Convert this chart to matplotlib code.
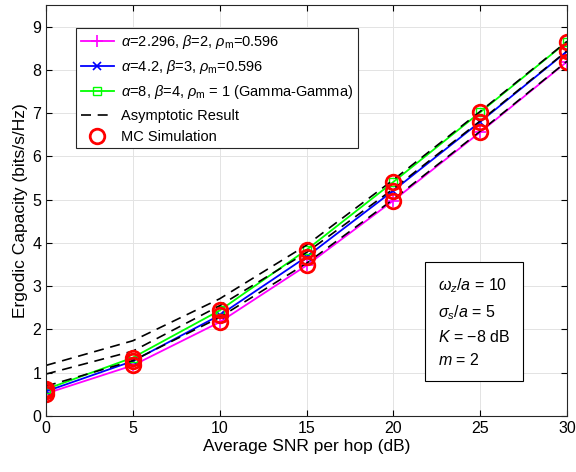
import matplotlib
matplotlib.use("Agg")
import matplotlib.pyplot as plt

plt.rcParams['font.family'] = ['Liberation Sans', 'DejaVu Sans']
plt.rcParams['mathtext.fontset'] = 'custom'
plt.rcParams['mathtext.rm'] = 'Liberation Sans'
plt.rcParams['mathtext.it'] = 'Liberation Sans:italic'

# data
snr = [0, 5, 10, 15, 20, 25, 30]
cap1 = [0.52, 1.17, 2.17, 3.48, 4.98, 6.56, 8.19]
cap2 = [0.57, 1.27, 2.33, 3.68, 5.21, 6.80, 8.43]
cap3 = [0.62, 1.35, 2.44, 3.84, 5.41, 7.02, 8.65]
asym1 = [0.69, 1.28, 2.28, 3.53, 5.01, 6.58, 8.20]
asym2 = [0.97, 1.50, 2.55, 3.78, 5.25, 6.82, 8.44]
asym3 = [1.17, 1.74, 2.71, 3.95, 5.46, 7.04, 8.66]

labels = [r'$\alpha$=2.296, $\beta$=2, $\rho_\mathrm{m}$=0.596',
          r'$\alpha$=4.2, $\beta$=3, $\rho_\mathrm{m}$=0.596',
          r'$\alpha$=8, $\beta$=4, $\rho_\mathrm{m}$ = 1 (Gamma-Gamma)']

fig = plt.figure(figsize=(5.76, 4.72), dpi=100)
ax = fig.add_axes([0.0799, 0.1186, 0.9045, 0.8708])

h1, = ax.plot(snr, cap1, color='magenta', marker='+', ms=8, mew=1.2, lw=1.3, label=labels[0])
h2, = ax.plot(snr, cap2, color='blue', marker='x', ms=6, mew=1.2, lw=1.3, label=labels[1])
h3, = ax.plot(snr, cap3, color='#00ff00', marker='s', ms=6, mfc='none', mew=1.0, lw=1.3, label=labels[2])
ha, = ax.plot(snr, asym1, 'k--', lw=1.2, dashes=(6, 4), label='Asymptotic Result')
ax.plot(snr, asym2, 'k--', lw=1.2, dashes=(6, 4))
ax.plot(snr, asym3, 'k--', lw=1.2, dashes=(6, 4))

for c in (cap1, cap2, cap3):
    hm, = ax.plot(snr, c, linestyle='none', marker='o', ms=10.5, mfc='none',
                  mec='red', mew=2, label='MC Simulation')

ax.set_xlim(0, 30)
ax.set_ylim(0, 9.5)
ax.set_xticks(range(0, 31, 5))
ax.set_yticks(range(0, 10))
ax.grid(True, color='#e3e3e3', lw=0.7)
ax.set_axisbelow(True)
ax.tick_params(direction='in', top=True, right=True, length=4, labelsize=11.5, width=0.8)
for s in ax.spines.values():
    s.set_color('#262626')
    s.set_linewidth(0.8)
ax.set_xlabel('Average SNR per hop (dB)', fontsize=12.5, labelpad=2)
ax.set_ylabel('Ergodic Capacity (bits/s/Hz)', fontsize=12.5, labelpad=3)

leg = ax.legend(handles=[h1, h2, h3, ha, hm], loc='upper left',
                bbox_to_anchor=(0.058, 0.943), fontsize=10.5, handlelength=2.3,
                fancybox=False, framealpha=1, edgecolor='#262626',
                borderpad=0.3, labelspacing=0.5, handletextpad=0.5,
                borderaxespad=0)
leg.get_frame().set_linewidth(0.8)

ax.text(0.752, 0.117,
        r'$\omega_z/a$ = 10' + '\n' + r'$\sigma_s/a$ = 5' + '\n' +
        r'$K$ = $-$8 dB' + '\n' + r'$m$ = 2',
        transform=ax.transAxes, fontsize=11.5, linespacing=1.55, va='bottom', ha='left',
        bbox=dict(boxstyle='square,pad=0.8', fc='white', ec='black', lw=0.8))

fig.savefig('out.png', dpi=100)
